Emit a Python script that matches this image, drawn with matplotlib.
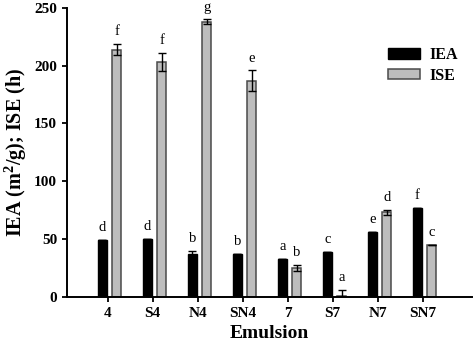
import numpy as np
import matplotlib
matplotlib.use('Agg')
import matplotlib.pyplot as plt

emulsions = ['4', 'S4', 'N4', 'SN4', '7', 'S7', 'N7', 'SN7']
iea = [49, 50, 37, 37, 33, 39, 56, 77]
iea_err = [0, 0, 2.5, 0, 0, 0, 0, 0]
ise = [214, 203, 238, 187, 25, 1, 73, 45]
ise_err = [5, 8, 2, 9, 3, 5, 2, 0]
iea_letters = ['d', 'd', 'b', 'b', 'a', 'c', 'e', 'f']
ise_letters = ['f', 'f', 'g', 'e', 'b', 'a', 'd', 'c']

plt.rcParams['font.family'] = ['Liberation Serif', 'DejaVu Serif']
plt.rcParams['font.weight'] = 'bold'
plt.rcParams['mathtext.fontset'] = 'custom'
plt.rcParams['mathtext.rm'] = 'Liberation Serif'
plt.rcParams['mathtext.bf'] = 'Liberation Serif:bold'

fig = plt.figure(figsize=(4.74, 3.44), dpi=100)
ax = fig.add_axes([0.141, 0.137, 0.855, 0.84])

x = np.arange(len(emulsions))
w = 0.2
ax.bar(x - 0.12, iea, w, color='black', edgecolor='black', label='IEA',
       yerr=iea_err, error_kw=dict(ecolor='black', capsize=3, lw=1))
ax.bar(x + 0.2, ise, w, color='#bdbdbd', edgecolor='#4a4a4a', linewidth=1.1,
       label='ISE', yerr=ise_err, error_kw=dict(ecolor='black', capsize=3, lw=1))

for i in range(len(emulsions)):
    ax.text(x[i] - 0.12, iea[i] + iea_err[i] + 5, iea_letters[i],
            ha='center', va='bottom', fontsize=10.5, fontweight='normal')
    ax.text(x[i] + 0.2, ise[i] + ise_err[i] + 5, ise_letters[i],
            ha='center', va='bottom', fontsize=10.5, fontweight='normal',
            clip_on=False)

ax.set_xlim(-0.91, 8.1)
ax.set_ylim(0, 250)
ax.set_yticks([0, 50, 100, 150, 200, 250])
ax.set_xticks(x)
ax.set_xticklabels(emulsions)
ax.spines['top'].set_visible(False)
ax.spines['right'].set_visible(False)
ax.spines['left'].set_linewidth(1.4)
ax.spines['bottom'].set_linewidth(1.4)
ax.tick_params(labelsize=11, width=1.3, length=3.5)

ax.set_xlabel('Emulsion', fontsize=14, fontweight='bold', labelpad=4)
ax.set_ylabel('IEA (m$^{2}$/g); ISE (h)', fontsize=14.5, fontweight='bold',
              labelpad=4)

ax.legend(loc='upper right', bbox_to_anchor=(1.0, 0.915), frameon=False,
          fontsize=11.5, handlelength=2.0, handleheight=0.65, labelspacing=0.3,
          handletextpad=0.6)

fig.savefig('out.png', dpi=100)
